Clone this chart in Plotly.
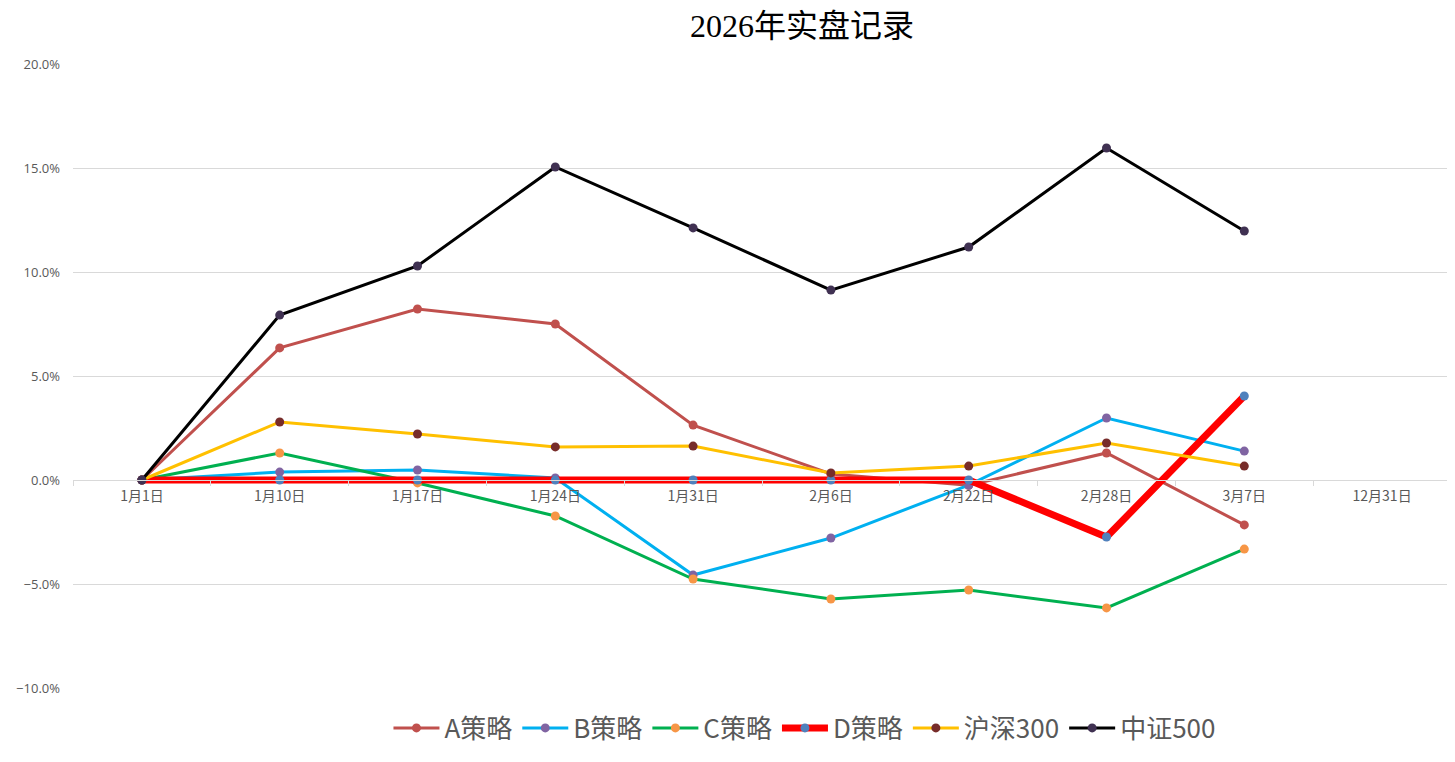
import plotly.graph_objects as go

categories = ["1月1日", "1月10日", "1月17日", "1月24日", "1月31日", "2月6日", "2月22日", "2月28日", "3月7日", "12月31日"]

a_vals = [0, 6.35, 8.22, 7.50, 2.64, 0.29, -0.25, 1.30, -2.16]
b_vals = [0, 0.38, 0.48, 0.10, -4.57, -2.79, -0.25, 2.98, 1.39]
c_vals = [0, 1.30, -0.14, -1.73, -4.76, -5.72, -5.29, -6.15, -3.32]
d_vals = [0, 0, 0, 0, 0, 0, 0, -2.74, 4.04]
hs300_vals = [0, 2.79, 2.21, 1.59, 1.63, 0.34, 0.67, 1.78, 0.67]
zz500_vals = [0, 7.93, 10.29, 15.05, 12.12, 9.13, 11.20, 15.96, 11.97]

series = [
    ("A策略", a_vals, "#C0504D", "#C0504D", 3),
    ("B策略", b_vals, "#00B0F0", "#8064A2", 3),
    ("C策略", c_vals, "#00B050", "#F79646", 3),
    ("D策略", d_vals, "#FF0000", "#4F81BD", 7),
    ("沪深300", hs300_vals, "#FFC000", "#772C2A", 3),
    ("中证500", zz500_vals, "#000000", "#403152", 3),
]

y_min, y_max = -10, 20

fig = go.Figure()
for name, vals, lc, mc, w in series:
    fig.add_trace(go.Scatter(
        x=categories[:len(vals)], y=[v / 100 for v in vals], name=name,
        mode="lines+markers",
        line=dict(color=lc, width=w),
        marker=dict(color=mc, size=9),
    ))

zero_pos = (0 - y_min) / (y_max - y_min)

fig.update_layout(
    width=1455, height=762,
    margin=dict(l=65, r=12, t=56, b=82, autoexpand=False),
    paper_bgcolor="white", plot_bgcolor="white",
    title=dict(text="2026年实盘记录", x=0.5457, xanchor="center", xref="container",
               y=0.9764, yanchor="middle",
               font=dict(family='"Liberation Serif", "DejaVu Serif", "Noto Sans CJK SC", serif',
                         size=32, color="#000000")),
    xaxis=dict(type="category", categoryorder="array", categoryarray=categories,
               range=[-0.5, len(categories) - 0.5], automargin=False,
               anchor="free", position=zero_pos,
               showline=True, linecolor="#D9D9D9", linewidth=1,
               ticks="outside", tickson="boundaries", ticklen=5, tickcolor="#D9D9D9",
               ticklabelstandoff=3,
               showgrid=False, zeroline=False,
               tickfont=dict(family="Noto Sans CJK SC", size=14, color="#595959")),
    yaxis=dict(domain=[0, 1], range=[y_min / 100, y_max / 100], dtick=0.05, automargin=False,
               tickformat=".1%", showgrid=True, gridcolor="#D9D9D9", gridwidth=1,
               zeroline=False, showline=False, ticks="", ticklabelstandoff=12,
               tickfont=dict(family="Open Sans, Noto Sans CJK SC", size=13, color="#595959")),
    legend=dict(orientation="h", x=0.5474, xanchor="center", xref="container",
                y=0.0551, yanchor="middle", yref="container",
                font=dict(family="Noto Sans CJK SC", size=26, color="#595959"),
                itemwidth=46),
    showlegend=True,
)

fig.write_html("out.html")
